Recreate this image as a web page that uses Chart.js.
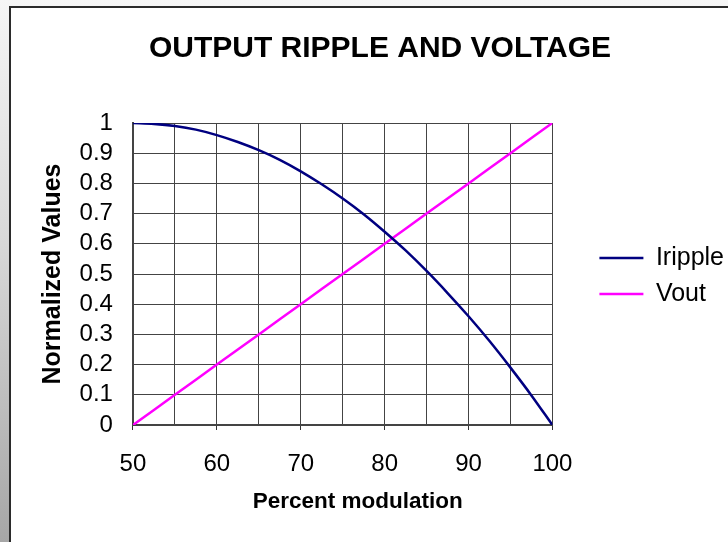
<!DOCTYPE html>
<html>
<head>
<meta charset="utf-8">
<title>Output ripple and voltage</title>
<script src="https://cdn.jsdelivr.net/npm/chart.js@4.4.1/dist/chart.umd.min.js"></script>
<style>
    html, body {
        margin: 0;
        padding: 0;
        width: 728px;
        height: 542px;
        overflow: hidden;
    }
    body {
        position: relative;
        background: linear-gradient(to bottom, #f6f6f6 0%, #d8d8d8 45%, #a6a6a6 100%);
    }
    /* white chart sheet with the dark edge on top and left */
    .sheet {
        position: absolute;
        left: 9px;
        top: 6px;
        right: -4px;
        bottom: -4px;
        background: #fff;
        border-left: 2px solid #2b2b2b;
        border-top: 2px solid #2b2b2b;
    }
    #rippleChart {
        position: absolute;
        left: 0;
        top: 0;
    }
</style>
</head>
<body>
<div class="sheet"></div>
<canvas id="rippleChart" width="728" height="542"></canvas>

<script>
// Percent modulation (x) and the two normalized curves
var modulation = [50, 52.5, 55, 57.5, 60, 62.5, 65, 67.5, 70, 72.5, 75,
                  77.5, 80, 82.5, 85, 87.5, 90, 92.5, 95, 97.5, 100];
var iripple = [1.0, 0.997, 0.99, 0.978, 0.96, 0.937, 0.91, 0.878, 0.84, 0.797, 0.75,
               0.698, 0.64, 0.578, 0.51, 0.437, 0.36, 0.278, 0.19, 0.098, 0.0];
var vout = [0.0, 0.05, 0.1, 0.15, 0.2, 0.25, 0.3, 0.35, 0.4, 0.45, 0.5,
            0.55, 0.6, 0.65, 0.7, 0.75, 0.8, 0.85, 0.9, 0.95, 1.0];
var xTickLabels = ['50', '60', '70', '80', '90', '100'];

var FONT = "'Liberation Sans', Arial, sans-serif";

function toPoints(ys) {
    return modulation.map(function(x, i) {
        return { x: x, y: ys[i] };
    });
}

// Title, legend and x-axis title sit a bit off the spots the layout gives them
var nudgeBoxes = {
    id: 'nudgeBoxes',
    afterLayout: function(chart) {
        var title = chart.titleBlock;
        if (title) {
            title.left += 31;
            title.right += 31;
        }
        var legend = chart.legend;
        if (legend) {
            legend.left += 36;
            legend.right += 36;
            legend.top += 5;
            legend.bottom += 5;
        }
    },
    beforeDraw: function(chart) {
        var xScale = chart.scales.x;
        if (xScale && !xScale._titleShifted) {
            var orig = xScale.drawTitle;
            xScale.drawTitle = function() {
                var c = this.ctx;
                c.save();
                c.translate(15, 0);
                orig.apply(this, arguments);
                c.restore();
            };
            xScale._titleShifted = true;
        }
    }
};

var ctx = document.getElementById('rippleChart');

new Chart(ctx, {
    type: 'line',
    data: {
        datasets: [{
            label: 'Iripple',
            data: toPoints(iripple),
            borderColor: '#000080',
            backgroundColor: '#000080',
            borderWidth: 2.5,
            pointRadius: 0,
            cubicInterpolationMode: 'monotone',
            fill: false
        }, {
            label: 'Vout',
            data: toPoints(vout),
            borderColor: '#ff00ff',
            backgroundColor: '#ff00ff',
            borderWidth: 2.5,
            pointRadius: 0,
            fill: false
        }]
    },
    options: {
        responsive: false,
        animation: false,
        devicePixelRatio: 1,
        layout: {
            padding: { left: 0, right: 30, top: 0, bottom: 0 }
        },
        plugins: {
            title: {
                display: true,
                text: 'OUTPUT RIPPLE AND VOLTAGE',
                color: '#000',
                font: { family: FONT, size: 30, weight: 'bold' },
                padding: { top: 30.4, bottom: 56.6 }
            },
            legend: {
                position: 'right',
                labels: {
                    color: '#000',
                    font: { family: FONT, size: 25 },
                    usePointStyle: true,
                    pointStyle: 'line',
                    pointStyleWidth: 44,
                    padding: 11
                }
            },
            tooltip: { enabled: false }
        },
        scales: {
            x: {
                type: 'linear',
                min: 50,
                max: 100,
                title: {
                    display: true,
                    text: 'Percent modulation',
                    color: '#000',
                    font: { family: FONT, size: 22.5, weight: 'bold' },
                    padding: { top: -9.5, bottom: 26.5 }
                },
                ticks: {
                    stepSize: 5,
                    autoSkip: false,
                    maxRotation: 0,
                    padding: 19.6,
                    color: '#000',
                    font: { family: FONT, size: 24 },
                    callback: function(value) {
                        var label = String(value);
                        return xTickLabels.indexOf(label) >= 0 ? label : '';
                    }
                },
                grid: {
                    color: '#444',
                    lineWidth: 1,
                    tickLength: 5,
                    tickColor: function(c) {
                        return c.tick && c.tick.value % 10 === 0 ? '#333' : 'rgba(0,0,0,0)';
                    }
                },
                border: { color: '#444', width: 2 }
            },
            y: {
                min: 0,
                max: 1,
                title: {
                    display: true,
                    text: 'Normalized Values',
                    color: '#000',
                    font: { family: FONT, size: 25, weight: 'bold' },
                    padding: { top: 38, bottom: -8.4 }
                },
                ticks: {
                    stepSize: 0.1,
                    autoSkip: false,
                    padding: 20,
                    color: '#000',
                    font: { family: FONT, size: 24 },
                    callback: function(value) {
                        return String(Math.round(value * 10) / 10);
                    }
                },
                grid: {
                    color: '#444',
                    lineWidth: 1,
                    drawTicks: false
                },
                border: { color: '#444', width: 2 }
            }
        }
    },
    plugins: [nudgeBoxes]
});
</script>
</body>
</html>
